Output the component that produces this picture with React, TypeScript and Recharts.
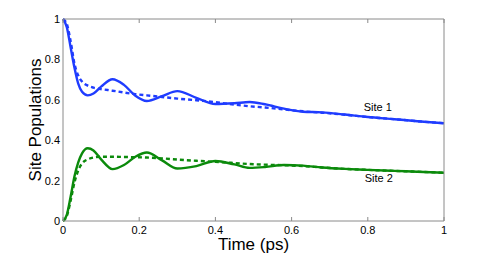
import { LineChart, Line, XAxis, YAxis, ReferenceDot } from "recharts";

// time in ps
const time = [
  0, 0.01, 0.02, 0.03, 0.04, 0.05, 0.065, 0.08, 0.1, 0.13, 0.16, 0.19, 0.22,
  0.26, 0.3, 0.35, 0.4, 0.45, 0.49, 0.53, 0.58, 0.63, 0.68, 0.74, 0.8, 0.87,
  0.93, 1.0,
];

// solid curves
const site1 = [
  1.0, 0.96, 0.86, 0.76, 0.68, 0.64, 0.622, 0.631, 0.665, 0.702, 0.674, 0.62,
  0.594, 0.618, 0.643, 0.61, 0.579, 0.583, 0.589, 0.578, 0.556, 0.541, 0.538,
  0.527, 0.515, 0.504, 0.494, 0.484,
];
const site2 = [
  0, 0.03, 0.12, 0.22, 0.29, 0.335, 0.36, 0.349, 0.305, 0.257, 0.277, 0.318,
  0.339, 0.3, 0.26, 0.272, 0.297, 0.28, 0.263, 0.267, 0.277, 0.274, 0.265,
  0.258, 0.253, 0.248, 0.244, 0.239,
];

// dotted curves
const site1Dot = [
  1.0, 0.975, 0.89, 0.78, 0.72, 0.69, 0.67, 0.66, 0.653, 0.645, 0.636, 0.628,
  0.622, 0.614, 0.606, 0.598, 0.588, 0.576, 0.568, 0.562, 0.552, 0.543, 0.536,
  0.526, 0.515, 0.504, 0.494, 0.484,
];
const site2Dot = [
  0, 0.025, 0.1, 0.19, 0.25, 0.285, 0.305, 0.314, 0.318, 0.318, 0.317, 0.316,
  0.314, 0.31, 0.304, 0.298, 0.293, 0.287, 0.282, 0.279, 0.276, 0.272, 0.265,
  0.258, 0.253, 0.248, 0.244, 0.239,
];

const xTicks = [0, 0.2, 0.4, 0.6, 0.8, 1];
const yTicks = [0, 0.2, 0.4, 0.6, 0.8, 1];

const rows = time.map((t, i) => ({
  t,
  s1: site1[i],
  s2: site2[i],
  d1: site1Dot[i],
  d2: site2Dot[i],
}));

const BLUE = "#1f3cff";
const GREEN = "#0b8a0b";
const FRAME = "#8a8a8a";
const FONT = "'Liberation Sans', Arial, Helvetica, sans-serif";

const tickStyle = { fontSize: 11, fill: "#000", fontFamily: FONT };
const noLabel = () => <g />;

export default function App() {
  return (
    <div style={{ position: "absolute", left: 0, top: 0, background: "#fff" }}>
      <LineChart
        width={491}
        height={253}
        data={rows}
        margin={{ top: 19, right: 47, bottom: 0, left: 0 }}
      >
        {/* labelled axes */}
        <XAxis
          xAxisId="b"
          dataKey="t"
          type="number"
          domain={[0, 1]}
          ticks={xTicks}
          height={32}
          tickLine={false}
          tickSize={0}
          tickMargin={5}
          axisLine={{ stroke: FRAME }}
          tick={tickStyle}
          label={{
            value: "Time (ps)",
            position: "insideBottom",
            offset: 3,
            style: { fontSize: 17, fill: "#000", fontFamily: FONT },
          }}
        />
        <YAxis
          yAxisId="l"
          type="number"
          domain={[0, 1]}
          ticks={yTicks}
          width={63}
          tickLine={false}
          tickSize={0}
          tickMargin={3}
          axisLine={{ stroke: FRAME }}
          tick={tickStyle}
          label={{
            value: "Site Populations",
            angle: -90,
            position: "center",
            dx: 3,
            style: { fontSize: 17, fill: "#000", fontFamily: FONT, textAnchor: "middle" },
          }}
        />
        {/* inward ticks and box frame */}
        <XAxis
          xAxisId="bIn"
          type="number"
          dataKey="t"
          domain={[0, 1]}
          ticks={xTicks}
          mirror
          tick={noLabel}
          tickSize={4}
          axisLine={false}
          tickLine={{ stroke: FRAME }}
        />
        <XAxis
          xAxisId="top"
          orientation="top"
          type="number"
          dataKey="t"
          domain={[0, 1]}
          ticks={xTicks}
          mirror
          tick={noLabel}
          tickSize={4}
          axisLine={{ stroke: FRAME }}
          tickLine={{ stroke: FRAME }}
        />
        <YAxis
          yAxisId="lIn"
          type="number"
          domain={[0, 1]}
          ticks={yTicks}
          mirror
          tick={noLabel}
          tickSize={4}
          axisLine={false}
          tickLine={{ stroke: FRAME }}
        />
        <YAxis
          yAxisId="r"
          orientation="right"
          type="number"
          domain={[0, 1]}
          ticks={yTicks}
          mirror
          tick={noLabel}
          tickSize={4}
          axisLine={{ stroke: FRAME }}
          tickLine={{ stroke: FRAME }}
        />

        <Line xAxisId="b" yAxisId="l" type="monotone" dataKey="d1" stroke={BLUE} strokeWidth={2.4} strokeDasharray="4 3" dot={false} isAnimationActive={false} />
        <Line xAxisId="b" yAxisId="l" type="monotone" dataKey="d2" stroke={GREEN} strokeWidth={2.4} strokeDasharray="4 3" dot={false} isAnimationActive={false} />
        <Line xAxisId="b" yAxisId="l" type="monotone" dataKey="s1" stroke={BLUE} strokeWidth={2.4} dot={false} isAnimationActive={false} />
        <Line xAxisId="b" yAxisId="l" type="monotone" dataKey="s2" stroke={GREEN} strokeWidth={2.4} dot={false} isAnimationActive={false} />

        <ReferenceDot
          xAxisId="b"
          yAxisId="l"
          x={0.826}
          y={0.564}
          r={0}
          stroke="none"
          label={{ value: "Site 1", position: "center", style: { fontSize: 11, fill: "#000", fontFamily: FONT } }}
        />
        <ReferenceDot
          xAxisId="b"
          yAxisId="l"
          x={0.829}
          y={0.213}
          r={0}
          stroke="none"
          label={{ value: "Site 2", position: "center", style: { fontSize: 11, fill: "#000", fontFamily: FONT } }}
        />
      </LineChart>
    </div>
  );
}
